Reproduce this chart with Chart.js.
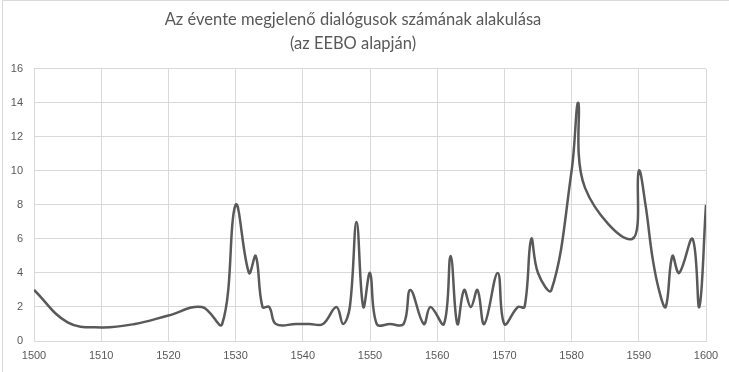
<!DOCTYPE html>
<html>
<head>
<meta charset="utf-8">
<script src="https://cdn.jsdelivr.net/npm/chart.js@4"></script>
<style>
  body { margin: 0; background: #fff; }
  #wrap { width: 729px; height: 372px; position: relative; }
</style>
</head>
<body>
<div id="wrap"><canvas id="grafik" width="729" height="372"></canvas></div>
<script>
// evek es a dialogusok szama (a kepről leolvasva)
const evek = [1500, 1505, 1510, 1515, 1520, 1525, 1528, 1530, 1532, 1533, 1534, 1535, 1536, 1539,
  1541, 1543, 1545, 1546, 1547, 1548, 1549, 1550, 1551, 1553, 1555, 1556, 1558, 1559, 1561, 1562,
  1563, 1564, 1565, 1566, 1567, 1569, 1570, 1572, 1573, 1574, 1575, 1577, 1580, 1581, 1582, 1589,
  1590, 1591, 1592, 1593, 1594, 1595, 1596, 1598, 1599, 1600];
const darab = [3, 1.1, 0.8, 1, 1.5, 2, 1, 8, 4, 5, 2, 2, 1, 1,
  1, 1, 2, 1, 2, 7, 2, 4, 1, 1, 1, 3, 1, 2, 1, 5,
  1, 3, 2, 3, 1, 4, 1, 2, 2, 6, 4, 3, 10, 14, 9, 6,
  10, 8, 5, 3, 2, 5, 4, 6, 2, 8];
const cim = ['Az évente megjelenő dialógusok számának alakulása', '(az EEBO alapján)'];

const pontok = evek.map((ev, i) => ({ x: ev, y: darab[i] }));
const szurke = '#595959';
const racs = '#d9d9d9';

const keret = {
  id: 'keret',
  beforeDraw: (chart) => {
    const ctx = chart.ctx;
    ctx.save();
    ctx.fillStyle = '#fff';
    ctx.fillRect(0, 0, chart.width, chart.height);
    ctx.restore();
  },
  afterDraw: (chart) => {
    const ctx = chart.ctx;
    ctx.save();
    ctx.strokeStyle = racs;
    ctx.lineWidth = 1;
    ctx.beginPath();
    ctx.moveTo(2.5, chart.height);
    ctx.lineTo(2.5, 0.5);
    ctx.lineTo(chart.width, 0.5);
    ctx.stroke();
    ctx.restore();
  }
};

let grafik = new Chart(document.getElementById('grafik'), {
  type: 'line',
  data: {
    datasets: [{
      data: pontok,
      borderColor: szurke,
      borderWidth: 2.5,
      pointRadius: 0,
      tension: 0.4,
      fill: false
    }]
  },
  options: {
    responsive: false,
    animation: false,
    layout: { padding: { left: 0, right: 23, top: 0, bottom: 0 } },
    plugins: {
      legend: { display: false },
      tooltip: { enabled: false },
      title: {
        display: true,
        text: cim,
        color: szurke,
        font: { family: 'Lato', size: 16.5, weight: 'normal', lineHeight: 1.45 },
        padding: { top: 8, bottom: 13 }
      }
    },
    scales: {
      x: {
        type: 'linear',
        min: 1500,
        max: 1600,
        afterFit: (scale) => { scale.height = 31; },
        ticks: {
          stepSize: 10,
          color: szurke,
          padding: 8,
          maxRotation: 0,
          font: { family: 'Liberation Sans', size: 11 },
          callback: (v) => String(v)
        },
        grid: { color: racs, drawTicks: false },
        border: { color: racs }
      },
      y: {
        min: 0,
        max: 16,
        afterFit: (scale) => { scale.width = 34; },
        ticks: {
          stepSize: 2,
          color: szurke,
          padding: 11,
          font: { family: 'Liberation Sans', size: 11 }
        },
        grid: { color: racs, drawTicks: false },
        border: { color: racs }
      }
    }
  },
  plugins: [keret]
});
</script>
</body>
</html>
